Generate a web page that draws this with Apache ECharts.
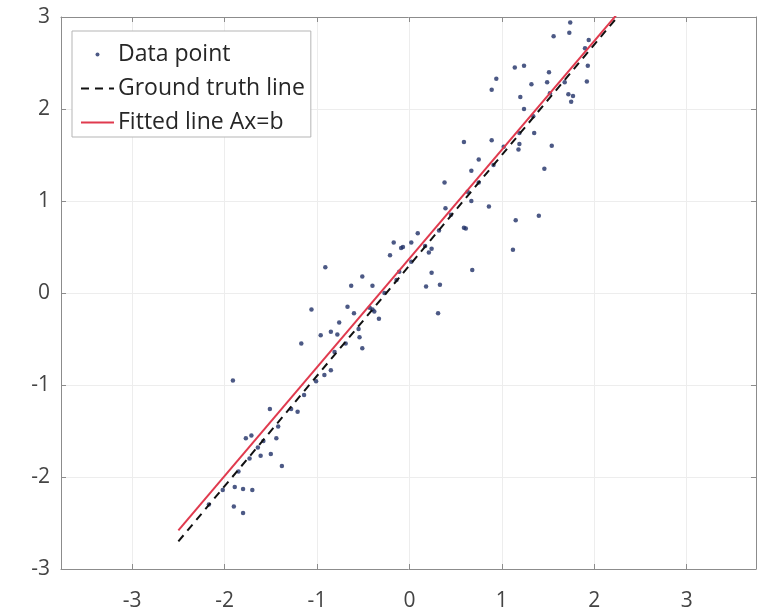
<!DOCTYPE html>
<html>
<head>
<meta charset="utf-8">
<script src="https://cdn.jsdelivr.net/npm/echarts@6/dist/echarts.min.js"></script>
<style>
  html, body { margin: 0; padding: 0; background: #fff; }
  #chart { width: 758px; height: 615px; }
</style>
</head>
<body>
<div id="chart"></div>
<script>
// Sample measurements (x, y)
const pointX = [
  -1.91, -1.51, -1.77, -1.71, -1.44, -1.61, -1.50, -1.38, -1.89, -1.80,
  -1.70, -1.90, -1.80, -1.28, -1.21, -1.42, -1.58, -1.64, -1.73, -1.85,
  -2.02, -2.17, -1.17, -1.06, -0.96, -0.85, -0.78, -0.76, -0.67, -0.60,
  -0.54, -0.51, -1.01, -0.92, -0.85, -1.14, -0.55, -0.69, -0.81, -0.40,
  -0.33, -0.91, -0.63, -0.51, -0.40, -0.43, -0.38, -0.27, -0.14, -0.11,
   0.02,  0.09,  0.02, -0.17, -0.21, -0.09, -0.07,  0.17,  0.24,  0.21,
   0.32,  0.24,  0.18,  0.33,  0.31,  0.39,  0.45,  0.59,  0.61,  1.40,
   1.15,  1.12,  0.68,  0.86,  0.67,  0.63,  0.38,  0.75,  0.91,  1.46,
   0.67,  0.75,  0.59,  0.89,  1.02,  1.19,  1.18,  1.54,  1.35,  0.89,
   0.94,  1.24,  1.20,  1.32,  1.14,  1.24,  1.52,  1.49,  1.51,  1.68,
   1.72,  1.77,  1.75,  1.92,  1.93,  1.90,  1.94,  1.56,  1.73,  1.74,
   1.34,  1.19
];
const pointY = [
  -0.95, -1.26, -1.58, -1.55, -1.58, -1.77, -1.75, -1.88, -2.11, -2.13,
  -2.14, -2.32, -2.39, -1.26, -1.29, -1.45, -1.61, -1.68, -1.80, -1.94,
  -2.14, -2.30, -0.55, -0.18, -0.46, -0.42, -0.45, -0.32, -0.15, -0.22,
  -0.48, -0.60, -0.96, -0.89, -0.84, -1.11, -0.39, -0.55, -0.64, -0.18,
  -0.28,  0.28,  0.08,  0.18,  0.08, -0.16, -0.20,  0.00,  0.14,  0.23,
   0.34,  0.65,  0.55,  0.55,  0.41,  0.49,  0.50,  0.51,  0.48,  0.44,
   0.68,  0.22,  0.07,  0.09, -0.22,  0.92,  0.85,  0.71,  0.70,  0.84,
   0.79,  0.47,  0.25,  0.94,  1.00,  1.10,  1.20,  1.20,  1.39,  1.35,
   1.33,  1.45,  1.64,  1.66,  1.59,  1.62,  1.56,  1.60,  1.74,  2.21,
   2.33,  2.00,  2.13,  2.27,  2.45,  2.47,  2.17,  2.29,  2.40,  2.29,
   2.16,  2.14,  2.08,  2.30,  2.47,  2.66,  2.75,  2.79,  2.83,  2.94,
   1.92,  1.74
];

// End points of the two lines
const truthX = [-2.5, 2.5];
const truthY = [-2.70, 3.30];
const fitX = [-2.5, 2.5];
const fitY = [-2.58, 3.33];

const tickValues = [-3, -2, -1, 0, 1, 2, 3];
const seriesNames = ['Data point', 'Ground truth line', 'Fitted line Ax=b'];

const zip = (xs, ys) => xs.map((x, i) => [x, ys[i]]);

const FONT = 'Open Sans';
const AXIS_COLOR = '#8c8c8c';
const GRID_COLOR = '#ededed';
const LABEL_COLOR = '#444';
const TICK_FONT = 21;
const LEGEND_FONT = 23;

const X_MIN = -3.77, X_MAX = 3.75;

function xAxisCfg(pos, showLabel) {
  return {
    type: 'value', position: pos, min: X_MIN, max: X_MAX,
    axisLine: { show: true, onZero: false, lineStyle: { color: AXIS_COLOR, width: 1 } },
    axisTick: { show: true, inside: true, length: 5, customValues: tickValues,
                lineStyle: { color: AXIS_COLOR } },
    axisLabel: { show: showLabel, customValues: tickValues, margin: 22,
                 fontFamily: FONT, fontSize: TICK_FONT, color: LABEL_COLOR },
    splitLine: { show: showLabel, lineStyle: { color: GRID_COLOR, width: 1 } }
  };
}
function yAxisCfg(pos, showLabel) {
  return {
    type: 'value', position: pos, min: -3, max: 3, interval: 1,
    axisLine: { show: true, onZero: false, lineStyle: { color: AXIS_COLOR, width: 1 } },
    axisTick: { show: true, inside: true, length: 5, lineStyle: { color: AXIS_COLOR } },
    axisLabel: { show: showLabel, margin: 11,
                 fontFamily: FONT, fontSize: TICK_FONT, color: LABEL_COLOR },
    splitLine: { show: showLabel, lineStyle: { color: GRID_COLOR, width: 1 } }
  };
}

// Hide the marker that line series put in the middle of their legend icon
const noMarker = { color: 'rgba(0,0,0,0)', borderColor: 'rgba(0,0,0,0)', borderWidth: 0 };

const chart = echarts.init(document.getElementById('chart'), null, { renderer: 'canvas' });
chart.setOption({
  animation: false,
  backgroundColor: '#fff',
  grid: { left: 61, right: 2, top: 17, bottom: 46, containLabel: false },
  xAxis: [xAxisCfg('bottom', true), xAxisCfg('top', false)],
  yAxis: [yAxisCfg('left', true), yAxisCfg('right', false)],
  legend: {
    orient: 'vertical', left: 72, top: 31,
    padding: [10, 6, 1, 8],
    itemGap: 7, itemWidth: 33, itemHeight: 4,
    backgroundColor: '#fff',
    borderColor: '#b5b5b5', borderWidth: 1,
    textStyle: { fontFamily: FONT, fontSize: LEGEND_FONT, color: '#262626',
                 lineHeight: 27, padding: [0, 0, 0, -1] },
    data: [
      { name: seriesNames[0] },
      { name: seriesNames[1], itemStyle: noMarker },
      { name: seriesNames[2], itemStyle: noMarker }
    ]
  },
  series: [
    {
      name: seriesNames[0], type: 'scatter',
      data: zip(pointX, pointY),
      symbol: 'circle', symbolSize: 4.5,
      itemStyle: { color: '#1f2f66' },
      z: 2
    },
    {
      name: seriesNames[1], type: 'line',
      data: zip(truthX, truthY),
      symbol: 'none', showSymbol: false, clip: true,
      lineStyle: { color: '#111', width: 2, type: [8, 6] },
      itemStyle: { color: '#111' },
      z: 3
    },
    {
      name: seriesNames[2], type: 'line',
      data: zip(fitX, fitY),
      symbol: 'none', showSymbol: false, clip: true,
      lineStyle: { color: '#e03a4e', width: 2 },
      itemStyle: { color: '#e03a4e' },
      z: 4
    }
  ]
});
</script>
</body>
</html>
